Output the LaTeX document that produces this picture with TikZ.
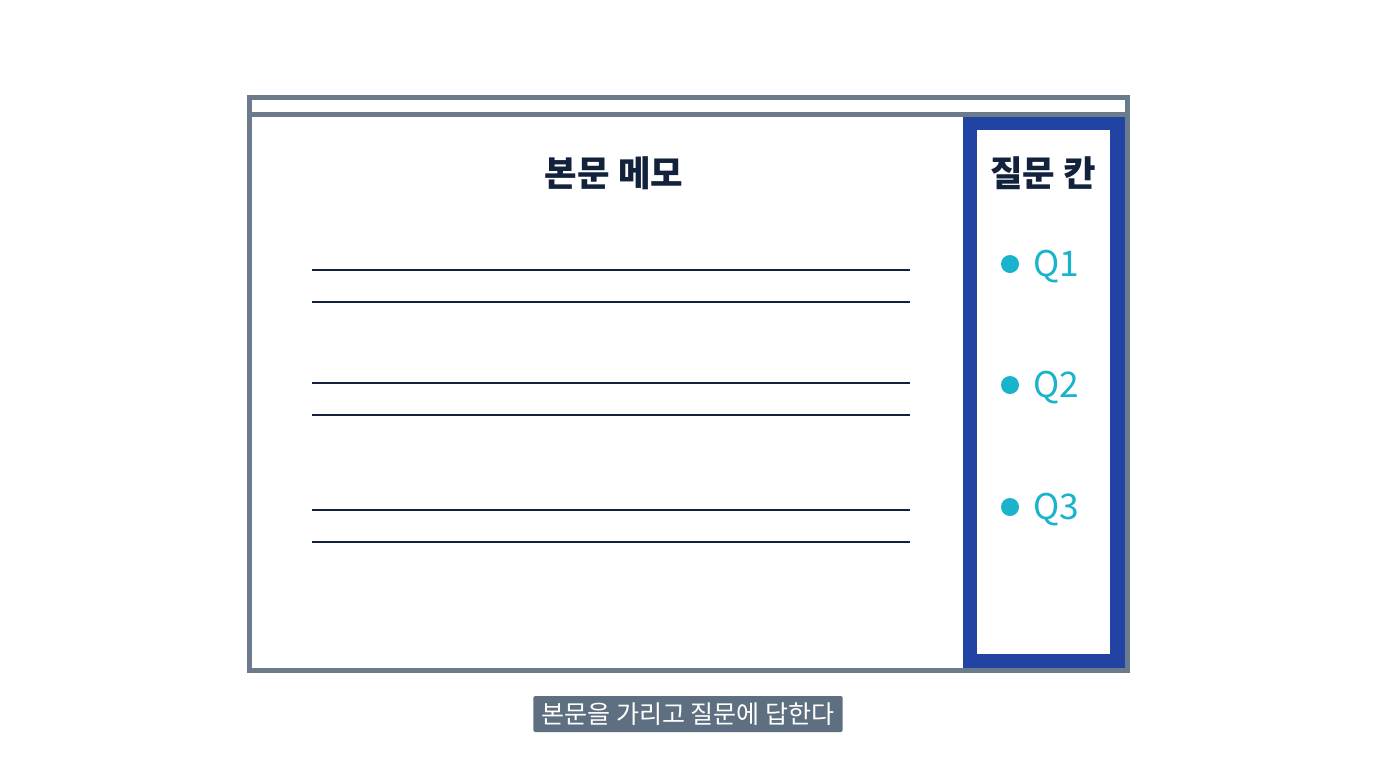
\documentclass[tikz,border=0pt]{standalone}
\usepackage{fontspec}
\setmainfont{Noto Sans CJK KR}
\usepackage{xcolor}
\definecolor{framegray}{HTML}{6B7B8B}
\definecolor{tagfill}{HTML}{5D6F80}
\definecolor{panelblue}{HTML}{2143A3}
\definecolor{navy}{HTML}{13223C}
\definecolor{qcyan}{HTML}{19B3CC}

\begin{document}
\begin{tikzpicture}[x=0.75pt,y=-0.75pt]
    \tikzstyle{frame}=[draw=framegray,line width=3.75pt]
    \tikzstyle{noteline}=[draw=navy,line width=2.2pt]
    \tikzstyle{heading}=[text=navy,font=\fontsize{26.5}{30}\selectfont\bfseries,inner sep=0pt]
    \tikzstyle{qtext}=[text=qcyan,font=\fontsize{26.5}{30}\selectfont,inner sep=0pt,anchor=west]
    \tikzstyle{qdot}=[circle,fill=qcyan,minimum size=13.5pt,inner sep=0pt]
    \tikzstyle{tag}=[fill=tagfill,text=white,rounded corners=1.5pt,font=\fontsize{18.8}{22}\selectfont,minimum width=232pt,minimum height=27pt,inner sep=0pt]

    \useasboundingbox (0,0) rectangle (1376,768);

    % question column
    \fill[panelblue] (963,116) rectangle (1127,670);
    \fill[white] (977,130) rectangle (1110,654);

    % window frame
    \coordinate (tl) at (249,97);
    \coordinate (br) at (1127,670);
    \draw[frame] (tl) rectangle (br);
    \draw[frame] (249,114) -- (1127,114);

    \node[heading] (memo) at (614,173) {본문 메모};
    \node[heading] (qcol) at (1043,173) {질문 칸};

    % note lines
    \foreach \y in {270,302,383,415,510,542}
        \draw[noteline] (312,\y) -- (910,\y);

    % questions
    \foreach \i/\y in {1/264,2/385,3/507}{
        \node[qdot] (dot\i) at (1010,\y) {};
        \node[qtext] (q\i) at (1033,\y+3) {Q\i};
    }

    \node[tag] (hint) at (688,714) {본문을 가리고 질문에 답한다};
\end{tikzpicture}
\end{document}
